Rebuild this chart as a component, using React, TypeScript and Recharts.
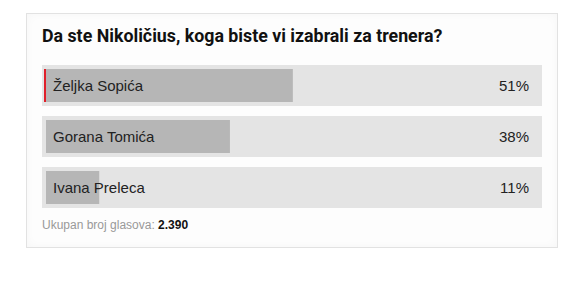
import React from 'react';
import { BarChart, Bar, XAxis, YAxis, LabelList } from 'recharts';

// Poll question and results
const questionTitle = 'Da ste Nikoličius, koga biste vi izabrali za trenera?';
const candidates = ['Željka Sopića', 'Gorana Tomića', 'Ivana Preleca'];
const votePercents = [51, 38, 11];
const totalVotesCaption = 'Ukupan broj glasova:';
const totalVotesValue = '2.390';

const rows = candidates.map((name, i) => ({ name, pct: votePercents[i] }));
const leaderIndex = votePercents.indexOf(Math.max(...votePercents));

const TRACK = '#e4e4e4';
const BAR_FILL = '#b6b6b6';
const ACCENT = '#e0202a';
const PAD = 4; // padding of the grey track around each bar
const TRACK_EXTRA_RIGHT = 12; // track runs a bit past the 100% mark
const LABEL_FONT = 'Arial, "Liberation Sans", Helvetica, sans-serif';

// Full-width track behind each bar, with the percentage at its right end
function TrackShape(props: any) {
  const { x, y, width, height, index } = props;
  const row = rows[index];
  if (!row) return null;
  const right = x + width + TRACK_EXTRA_RIGHT;
  return (
    <g>
      <rect
        x={x - PAD}
        y={y - PAD}
        width={width + PAD + TRACK_EXTRA_RIGHT}
        height={height + 2 * PAD}
        fill={TRACK}
      />
      <text
        x={right - 13}
        y={y + height / 2}
        textAnchor="end"
        dominantBaseline="central"
        fontFamily={LABEL_FONT}
        fontSize={15}
        fill="#222"
      >
        {row.pct}%
      </text>
    </g>
  );
}

// Result bar; the leading answer gets a red marker on its left edge
function ResultBar(props: any) {
  const { x, y, width, height, index } = props;
  return (
    <g>
      <rect x={x} y={y} width={Math.max(0, width)} height={height} fill={BAR_FILL} />
      {index === leaderIndex && (
        <rect x={x - 2} y={y} width={2} height={height} fill={ACCENT} />
      )}
    </g>
  );
}

function NameLabel(props: any) {
  const { x, y, height, value } = props;
  return (
    <text
      x={x + 7}
      y={y + height / 2}
      dominantBaseline="central"
      fontFamily={LABEL_FONT}
      fontSize={15}
      fill="#222"
    >
      {value}
    </text>
  );
}

export default function App() {
  return (
    <div
      style={{
        position: 'absolute',
        left: 0,
        top: 0,
        width: 580,
        height: 296,
        background: '#ffffff',
        overflow: 'hidden',
      }}
    >
      <div
        style={{
          position: 'absolute',
          left: 26,
          top: 13,
          width: 532,
          height: 235,
          boxSizing: 'border-box',
          border: '1px solid #e2e2e2',
          background: '#fdfdfd',
          boxShadow: 'inset 0 0 10px rgba(0,0,0,0.03)',
        }}
      />
      <div
        style={{
          position: 'absolute',
          left: 42,
          top: 26.5,
          fontFamily: 'Roboto, sans-serif',
          fontWeight: 700,
          fontSize: 17.8,
          lineHeight: '17.8px',
          color: '#111',
          whiteSpace: 'nowrap',
        }}
      >
        {questionTitle}
      </div>
      <div style={{ position: 'absolute', left: 0, top: 0 }}>
        <BarChart
          width={580}
          height={296}
          data={rows}
          layout="vertical"
          barSize={33}
          margin={{ top: 60, right: 50, bottom: 83, left: 46 }}
        >
          <XAxis type="number" domain={[0, 100]} hide />
          <YAxis type="category" dataKey="name" hide />
          <Bar
            dataKey="pct"
            isAnimationActive={false}
            background={TrackShape}
            shape={ResultBar}
          >
            <LabelList dataKey="name" content={NameLabel} />
          </Bar>
        </BarChart>
      </div>
      <div
        style={{
          position: 'absolute',
          left: 42,
          top: 219,
          fontFamily: LABEL_FONT,
          fontSize: 12,
          lineHeight: '12px',
          color: '#999',
          whiteSpace: 'nowrap',
        }}
      >
        {totalVotesCaption}{' '}
        <span style={{ color: '#111', fontWeight: 700 }}>{totalVotesValue}</span>
      </div>
    </div>
  );
}
